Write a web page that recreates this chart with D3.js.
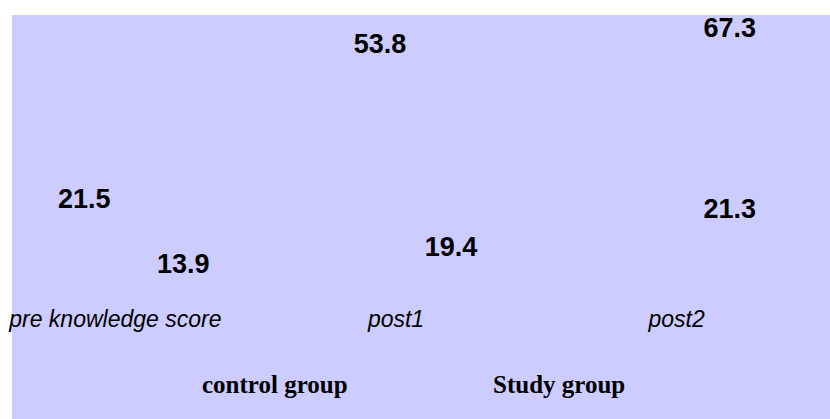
<!DOCTYPE html>
<html>
<head>
<meta charset="utf-8">
<script src="https://cdn.jsdelivr.net/npm/d3@7/dist/d3.min.js"></script>
<style>
  html, body { margin: 0; padding: 0; background: #fff; }
  svg { display: block; }
</style>
</head>
<body>
<div id="chart"></div>
<script>
var categories = ['pre knowledge score', 'post1', 'post2'];
var seriesNames = ['control group', 'Study group'];
var controlValues = [21.5, 19.4, 21.3];
var studyValues = [13.9, 53.8, 67.3];

// the source chart scatters its value labels off the bar tops; these nudges copy that
var controlNudge = [[-41, -18], [45, 20], [43, -9]];
var studyNudge = [[18, 12], [-66, -25], [3, 21]];

var w = 830, h = 419;

var svg = d3.select('#chart').append('svg')
  .attr('width', w)
  .attr('height', h);

svg.append('rect')
  .attr('x', 12)
  .attr('y', 15)
  .attr('width', w - 12)
  .attr('height', h - 15)
  .attr('fill', '#ccccff');

var x0 = d3.scaleBand().domain(categories).range([-25, 817]);
var x1 = d3.scalePoint().domain(seriesNames).range([10, 50]);
var y = d3.scaleLinear().domain([0, 70]).range([325, 4]);

var series = [
  { name: seriesNames[0], values: controlValues, nudge: controlNudge },
  { name: seriesNames[1], values: studyValues, nudge: studyNudge }
];

var labels = [];
series.forEach(function(s) {
  s.values.forEach(function(v, i) {
    labels.push({ series: s.name, cat: categories[i], value: v, nudge: s.nudge[i] });
  });
});

svg.append('g').selectAll('text')
  .data(labels)
  .enter().append('text')
  .attr('x', function(d) { return x0(d.cat) + x0.bandwidth() / 2 + x1(d.series) + d.nudge[0]; })
  .attr('y', function(d) { return y(d.value) + d.nudge[1]; })
  .attr('text-anchor', 'middle')
  .attr('font-family', '"Liberation Sans", Arial, sans-serif')
  .attr('font-weight', 'bold')
  .attr('font-size', 27)
  .attr('fill', '#000')
  .text(function(d) { return d3.format('.1f')(d.value); });

// category axis, no line or ticks in the source
var xAxis = svg.append('g')
  .attr('transform', 'translate(0,' + (y(0) + 2) + ')')
  .call(d3.axisBottom(x0).tickSize(0).tickPadding(0));
xAxis.select('.domain').remove();
xAxis.selectAll('text')
  .attr('dy', 0)
  .attr('font-family', '"Liberation Sans", Arial, sans-serif')
  .attr('font-style', 'italic')
  .attr('font-size', 23)
  .attr('fill', '#000');

var legendX = d3.scalePoint().domain(seriesNames).range([202, 493]);
svg.append('g').selectAll('text')
  .data(seriesNames)
  .enter().append('text')
  .attr('x', function(d) { return legendX(d); })
  .attr('y', 393)
  .attr('font-family', '"Liberation Serif", "Times New Roman", serif')
  .attr('font-weight', 'bold')
  .attr('font-size', 25)
  .attr('fill', '#000')
  .text(function(d) { return d; });
</script>
</body>
</html>
